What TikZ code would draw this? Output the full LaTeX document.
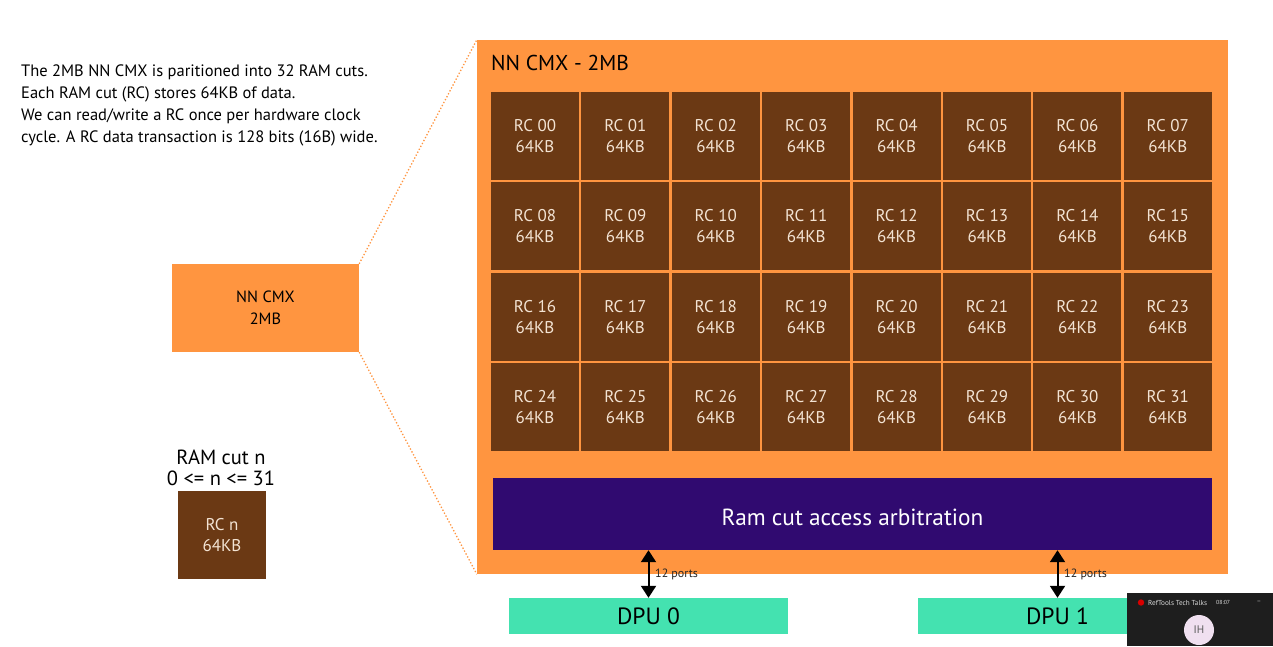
\documentclass[tikz,border=0pt]{standalone}
\usepackage{fontspec}
\setmainfont{PT Sans}
\usetikzlibrary{arrows.meta}
\definecolor{cmxorange}{HTML}{FF9540}
\definecolor{cellbrown}{HTML}{6B3914}
\definecolor{celltext}{HTML}{F3E3D3}
\definecolor{arbpurple}{HTML}{300A70}
\definecolor{dpugreen}{HTML}{44E2B0}
\definecolor{overlaybg}{HTML}{1E1E1E}
\tikzset{
  cellbox/.style={fill=cellbrown, draw=none, minimum width=88pt, minimum height=88pt, inner sep=0pt,
    text=celltext, align=center, font=\fontsize{17}{21}\selectfont},
  dpubox/.style={fill=dpugreen, draw=none, minimum width=279pt, minimum height=36pt, inner sep=0pt,
    font=\fontsize{23.5}{25}\selectfont},
  portarrow/.style={{Triangle[width=15pt,length=12pt]}-{Triangle[width=15pt,length=12pt]}, line width=2pt},
  zoomline/.style={draw=cmxorange, dotted, line width=1.3pt},
  portlabel/.style={font=\fontsize{12}{13}\selectfont, text=black!85, anchor=west, inner sep=0pt}
}
\begin{document}
\begin{tikzpicture}[x=1pt,y=-1pt]
\useasboundingbox[fill=white] (0,0) rectangle (1273,646);

% description
\node[anchor=north west, inner sep=0pt, align=left, font=\fontsize{16.5}{21.8}\selectfont] (desc) at (21,65)
 {The 2MB NN CMX is paritioned into 32 RAM cuts.\\Each RAM cut (RC) stores 64KB of data.\\We can read/write a RC once per hardware clock\\cycle. A RC data transaction is 128 bits (16B) wide.};

% small NN CMX box
\node[fill=cmxorange, minimum width=187pt, minimum height=88pt, inner sep=0pt, align=center,
  font=\fontsize{16.3}{21.5}\selectfont] (small) at (265.5,308) {NN CMX\\2MB};

% big box
\node[fill=cmxorange, minimum width=751pt, minimum height=534pt, inner sep=0pt] (big) at (852.5,307) {};
\node[anchor=west, inner sep=0pt, font=\fontsize{21.5}{23}\selectfont] (title) at (491,63) {NN CMX - 2MB};

% zoom lines
\draw[zoomline] (small.north east) -- (big.north west);
\draw[zoomline] (small.south east) -- (big.south west);

% cells
\foreach \r in {0,...,3}{
  \foreach \c in {0,...,7}{
    \pgfmathtruncatemacro\n{8*\r+\c}
    \ifnum\n<10 \edef\lab{0\n}\else\edef\lab{\n}\fi
    \node[cellbox] (cell\n) at ({535+90.4*\c},{136+90.4*\r}) {RC \lab\\64KB};
  }
}

% arbitration
\node[fill=arbpurple, minimum width=719pt, minimum height=72pt, inner sep=0pt] (arb) at (852.5,514) {};
\node[inner sep=0pt, text=white, font=\fontsize{23.3}{25}\selectfont] (arbtext) at ([yshift=-3pt]arb.center) {Ram cut access arbitration};

% DPUs
\node[dpubox] (dpu0) at (648.5,616) {DPU 0};
\node[dpubox] (dpu1) at (1057.5,616) {DPU 1};

\draw[portarrow] (dpu0.north) -- (dpu0.north |- arb.south);
\draw[portarrow] (dpu1.north) -- (dpu1.north |- arb.south);
\node[portlabel] (p0) at (655,574) {12 ports};
\node[portlabel] (p1) at (1064,574) {12 ports};

% RAM cut n legend
\node[align=center, inner sep=0pt, font=\fontsize{20.5}{21}\selectfont] (legend) at (221,468) {RAM cut n\\0 <= n <= 31};
\node[cellbox] (rcn) at (222,535) {RC n\\64KB};

% video overlay
\fill[overlaybg] (1127,593) rectangle (1273,646);
\fill[red!85!black] (1141,602.5) circle (3.2pt);
\node[anchor=west, inner sep=0pt, text=white!85!black, font=\fontsize{7.2}{8}\selectfont] (ovtitle) at (1148,602.5) {RefTools Tech Talks};
\node[anchor=west, inner sep=0pt, text=white!85!black, font=\fontsize{5.8}{6}\selectfont] (ovtime) at (1216,602.5) {08:07};
\node[inner sep=0pt, text=white!70!black, font=\fontsize{7}{7}\selectfont] (ovmin) at (1259,602.5) {–};
\node[circle, fill=white!88!violet, minimum size=30pt, inner sep=0pt, text=black!65,
  font=\fontsize{11}{12}\selectfont] (avatar) at (1199,630) {IH};
\end{tikzpicture}
\end{document}
